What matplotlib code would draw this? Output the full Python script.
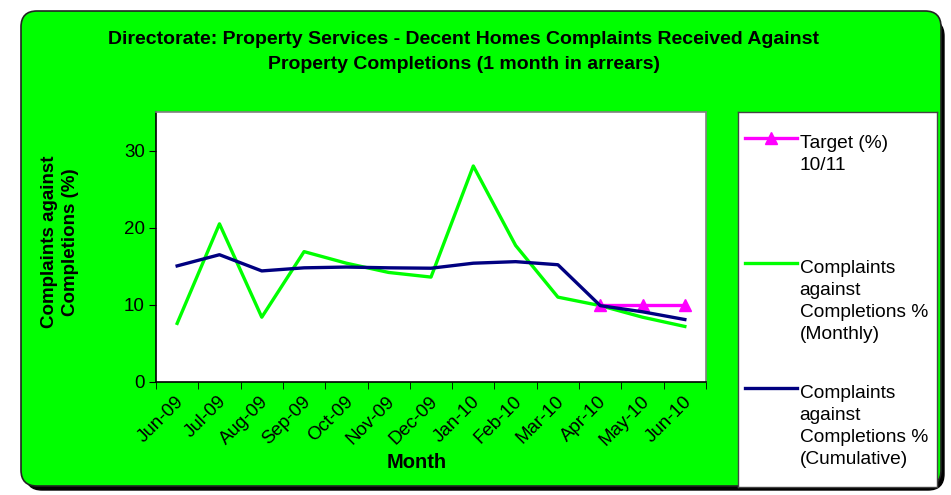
import numpy as np
import matplotlib.pyplot as plt
from matplotlib.patches import FancyBboxPatch
from matplotlib.transforms import IdentityTransform

months = ["Jun-09", "Jul-09", "Aug-09", "Sep-09", "Oct-09", "Nov-09", "Dec-09",
          "Jan-10", "Feb-10", "Mar-10", "Apr-10", "May-10", "Jun-10"]
monthly = [7.6, 20.5, 8.4, 16.9, 15.4, 14.2, 13.6, 28.0, 17.7, 11.0, 9.9, 8.4, 7.2]
cumulative = [15.05, 16.5, 14.4, 14.8, 14.9, 14.8, 14.75, 15.4, 15.6, 15.2, 9.9, 9.1, 8.1]
target = [np.nan] * 10 + [10.0, 10.0, 10.0]

labels = ["Target (%)\n10/11",
          "Complaints\nagainst\nCompletions %\n(Monthly)",
          "Complaints\nagainst\nCompletions %\n(Cumulative)"]

GREEN = "#00ff00"
NAVY = "#000080"
PINK = "#ff00ff"

plt.rcParams['font.family'] = ['Liberation Sans', 'DejaVu Sans']

W, H = 951, 495
fig = plt.figure(figsize=(W / 100, H / 100), dpi=100)
fig.patch.set_facecolor("white")

# rounded green panel with a drop shadow (pixel coords)
shadow = FancyBboxPatch((26, 5), 918, 470, boxstyle="round,pad=0,rounding_size=16",
                        transform=IdentityTransform(), facecolor="black",
                        edgecolor="black", zorder=-2)
panel = FancyBboxPatch((21, 9), 920, 475, boxstyle="round,pad=0,rounding_size=16",
                       transform=IdentityTransform(), facecolor=GREEN,
                       edgecolor="#222222", linewidth=1.2, zorder=-1)
fig.patches.extend([shadow, panel])

fig.text(464 / W, 1 - 52 / H,
         "Directorate: Property Services - Decent Homes Complaints Received Against\n"
         "Property Completions (1 month in arrears)",
         ha="center", va="center", fontsize=14, fontweight="bold",
         linespacing=1.55)

ax = fig.add_axes([156 / W, 1 - 382 / H, 550 / W, 270 / H])
ax.set_facecolor("white")
x = np.arange(len(months))
ax.plot(x, monthly, color=GREEN, lw=2.4, zorder=3)
ax.plot(x, target, color=PINK, lw=2.4, marker="^", markersize=9, zorder=4)
ax.plot(x, cumulative, color=NAVY, lw=2.4, zorder=5)

ax.set_xlim(-0.5, len(months) - 0.5)
ax.set_ylim(0, 35)
ax.set_yticks([0, 10, 20, 30])
ax.set_xticks(x - 0.05)
ax.set_xticklabels(months, rotation=45, ha="right", rotation_mode="anchor")
ax.set_xticks(np.arange(-0.5, len(months), 1), minor=True)
ax.tick_params(axis="x", which="major", length=0, pad=8, labelsize=13.5)
ax.tick_params(axis="x", which="minor", length=5, direction="out", color="black")
ax.tick_params(axis="y", length=5, direction="out", labelsize=13.5, pad=3)
for side in ("top", "right"):
    ax.spines[side].set_color("#808080")
for side in ("left", "bottom"):
    ax.spines[side].set_color("black")
for sp in ax.spines.values():
    sp.set_linewidth(1.2)

fig.text(60 / W, 1 - 242 / H, "Complaints against\nCompletions (%)",
         rotation=90, ha="center", va="center", fontsize=13.5,
         fontweight="bold", linespacing=1.3)
fig.text(417 / W, 1 - 463 / H, "Month", ha="center", va="center",
         fontsize=14.5, fontweight="bold")

# legend box
lg = fig.add_axes([738 / W, 1 - 487 / H, 199 / W, 375 / H])
lg.set_xlim(0, 1)
lg.set_ylim(0, 1)
lg.set_xticks([])
lg.set_yticks([])
for sp in lg.spines.values():
    sp.set_color("#444444")
    sp.set_linewidth(1)
styles = [dict(color=PINK, marker="^", markersize=9, markevery=[1]),
          dict(color=GREEN), dict(color=NAVY)]
ys = [0.931, 0.597, 0.264]
for lab, st, yy in zip(labels, styles, ys):
    lg.plot([0.035, 0.165, 0.296], [yy, yy, yy], lw=2.4, **st)
    lg.text(0.31, yy + 0.008, lab, ha="left", va="top", fontsize=13.8,
            linespacing=1.38)

fig.savefig("out.png", dpi=100)
